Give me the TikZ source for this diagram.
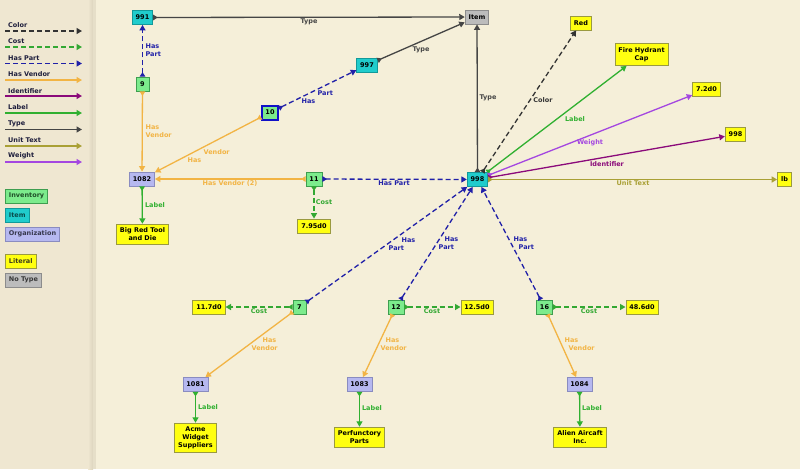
\documentclass[tikz,border=0pt]{standalone}
\usepackage{fontspec}
\setmainfont{DejaVu Sans}
\usetikzlibrary{arrows.meta}

\definecolor{bgmain}{HTML}{F5EFD9}
\definecolor{bgleft}{HTML}{EFE7D1}
\definecolor{bgdiv}{HTML}{DCD4BE}
\definecolor{typec}{HTML}{454545}
\definecolor{colorc}{HTML}{333333}
\definecolor{costc}{HTML}{33A833}
\definecolor{partc}{HTML}{2020A8}
\definecolor{vendorc}{HTML}{F2B444}
\definecolor{identc}{HTML}{8B0A7A}
\definecolor{labelc}{HTML}{30B030}
\definecolor{unitc}{HTML}{A9A035}
\definecolor{weightc}{HTML}{A447E0}
\definecolor{invfill}{HTML}{7CEB8C}
\definecolor{invline}{HTML}{3E9E50}
\definecolor{itemfill}{HTML}{20CCCC}
\definecolor{itemline}{HTML}{129A9A}
\definecolor{orgfill}{HTML}{B6B8F0}
\definecolor{orgline}{HTML}{8A8CC0}
\definecolor{litfill}{HTML}{FFFF10}
\definecolor{litline}{HTML}{9A9A40}
\definecolor{ntfill}{HTML}{BCBCBC}
\definecolor{ntline}{HTML}{8C8C8C}
\definecolor{selc}{HTML}{1010C8}
\definecolor{legendc}{HTML}{1E1E3C}

\begin{document}
\begin{tikzpicture}[
    x=1pt, y=-1pt,
    every node/.style={font=\fontsize{6.5}{8}\selectfont\bfseries},
    box/.style={draw, line width=0.8pt, inner xsep=3.5pt, inner ysep=3.8pt, minimum height=14pt, minimum width=13pt, align=center, text=black},
    inventory/.style={box, fill=invfill, draw=invline},
    item/.style={box, fill=itemfill, draw=itemline},
    organization/.style={box, fill=orgfill, draw=orgline},
    literal/.style={box, fill=litfill, draw=litline},
    notype/.style={box, fill=ntfill, draw=ntline},
    selected/.style={draw=selc, line width=2pt},
    edge/.style={line width=1.3pt, {Triangle[reversed,length=4.5pt,width=5.5pt]}-{Triangle[length=5.5pt,width=6pt]}},
    dashedge/.style={edge, dash pattern=on 5pt off 3pt},
    typeline/.style={edge, typec},
    colorline/.style={dashedge, colorc},
    costline/.style={dashedge, costc},
    partline/.style={dashedge, partc},
    vendorline/.style={edge, vendorc},
    idline/.style={edge, identc},
    labelline/.style={edge, labelc},
    unitline/.style={edge, unitc},
    weightline/.style={edge, weightc},
    legendline/.style={-{Triangle[length=5.5pt,width=6pt]}},
    legendtext/.style={anchor=west, inner sep=0pt, text=legendc},
    lbl/.style={inner sep=0pt, align=left},
]

% Background
\useasboundingbox (0,0) rectangle (800,469);
\fill[bgleft] (0,0) rectangle (89,469);
\shade[left color=bgleft, right color=bgdiv] (88,0) rectangle (93,469);
\fill[bgdiv!60!bgmain] (93,0) rectangle (96,469);
\fill[bgmain] (96,0) rectangle (800,469);

% Legend
\node[legendtext] (lgcolor) at (8,25) {Color};
\node[legendtext] (lgcost) at (8,41) {Cost};
\node[legendtext] (lgpart) at (8,58) {Has Part};
\node[legendtext] (lgvendor) at (8,74) {Has Vendor};
\node[legendtext] (lgident) at (8,91) {Identifier};
\node[legendtext] (lglabel) at (8,107) {Label};
\node[legendtext] (lgtype) at (8,124) {Type};
\node[legendtext] (lgunit) at (8,140) {Unit Text};
\node[legendtext] (lgweight) at (8,156) {Weight};

\coordinate (lgcolor-s) at (5,31);     \coordinate (lgcolor-e) at (82,31);
\coordinate (lgcost-s) at (5,47);      \coordinate (lgcost-e) at (82,47);
\coordinate (lgpart-s) at (5,63.5);    \coordinate (lgpart-e) at (82,63.5);
\coordinate (lgvendor-s) at (5,80);    \coordinate (lgvendor-e) at (82,80);
\coordinate (lgident-s) at (5,96);     \coordinate (lgident-e) at (82,96);
\coordinate (lglabel-s) at (5,113);    \coordinate (lglabel-e) at (82,113);
\coordinate (lgtype-s) at (5,129.5);   \coordinate (lgtype-e) at (82,129.5);
\coordinate (lgunit-s) at (5,146);     \coordinate (lgunit-e) at (82,146);
\coordinate (lgweight-s) at (5,162);   \coordinate (lgweight-e) at (82,162);

\draw[colorline, legendline] (lgcolor-s) -- (lgcolor-e);
\draw[costline, legendline] (lgcost-s) -- (lgcost-e);
\draw[partline, legendline] (lgpart-s) -- (lgpart-e);
\draw[vendorline, legendline] (lgvendor-s) -- (lgvendor-e);
\draw[idline, legendline] (lgident-s) -- (lgident-e);
\draw[labelline, legendline] (lglabel-s) -- (lglabel-e);
\draw[typeline, legendline] (lgtype-s) -- (lgtype-e);
\draw[unitline, legendline] (lgunit-s) -- (lgunit-e);
\draw[weightline, legendline] (lgweight-s) -- (lgweight-e);

\node[inventory, anchor=west, text=invline!50!black] (lginventory) at (5,196) {Inventory};
\node[item, anchor=west, text=itemline!50!black] (lgitem) at (5,215) {Item};
\node[organization, anchor=west, text=orgline!40!black] (lgorg) at (5,234) {Organization};
\node[literal, anchor=west, text=litline!40!black] (lgliteral) at (5,261.5) {Literal};
\node[notype, anchor=west, text=ntline!40!black] (lgnotype) at (5,280) {No Type};

% Nodes
\node[item] (n991) at (142.5,17.5) {991};
\node[inventory] (n9) at (142.5,84) {9};
\node[inventory, selected] (n10) at (270,112.5) {10};
\node[organization] (n1082) at (142,179) {1082};
\node[inventory] (n11) at (314,179) {11};
\node[literal] (l795) at (314,226) {7.95d0};
\node[literal] (lbigred) at (142.5,234.5) {Big Red Tool\\and Die};
\node[notype] (item) at (477,17) {Item};
\node[item] (n997) at (367,65) {997};
\node[item] (n998) at (477.5,179.5) {998};
\node[literal] (lred) at (581,23) {Red};
\node[literal] (lfire) at (641.5,54.5) {Fire Hydrant\\Cap};
\node[literal] (l72) at (706.5,89.5) {7.2d0};
\node[literal] (l998) at (735.5,134.5) {998};
\node[literal] (llb) at (784.5,179.5) {lb};
\node[inventory] (n7) at (299.5,307) {7};
\node[literal] (l117) at (209,307) {11.7d0};
\node[inventory] (n12) at (396,307) {12};
\node[literal] (l125) at (477,307) {12.5d0};
\node[inventory] (n16) at (544.5,307) {16};
\node[literal] (l486) at (642,307) {48.6d0};
\node[organization] (n1081) at (195.5,384.5) {1081};
\node[literal] (lacme) at (195.5,438) {Acme\\Widget\\Suppliers};
\node[organization] (n1083) at (359.5,384.5) {1083};
\node[literal] (lperf) at (359.5,437.5) {Perfunctory\\Parts};
\node[organization] (n1084) at (579.5,384.5) {1084};
\node[literal] (lalien) at (580,437.5) {Alien Aircaft\\Inc.};

% Edges
\draw[typeline] (n991) -- (item) node[lbl] at (309,22) {Type};
\draw[typeline] (n997) -- (item) node[lbl] at (421,50) {Type};
\draw[typeline] (n998) -- (item) node[lbl] at (488,98) {Type};
\draw[partline] (n9) -- (n991) node[lbl, anchor=west] at (145,50) {Has\\Part};
\draw[partline] (n10) -- (n997) node[lbl, anchor=west] at (301,97) {\hspace*{16pt}Part\\Has};
\draw[vendorline] (n9) -- (n1082) node[lbl, anchor=west] at (145,131) {Has\\Vendor};
\draw[vendorline] (n10) -- (n1082) node[lbl, anchor=west] at (187,156) {\hspace*{16pt}Vendor\\Has};
\draw[vendorline] (n11) -- (n1082) node[lbl] at (230,183) {Has Vendor (2)};
\draw[partline] (n11) -- (n998) node[lbl] at (394,183) {Has Part};
\draw[costline] (n11) -- (l795) node[lbl] at (324,202) {Cost};
\draw[labelline] (n1082) -- (lbigred) node[lbl] at (155,205) {Label};

\draw[colorline] (n998) -- (lred) node[lbl] at (543,100) {Color};
\draw[labelline] (n998) -- (lfire) node[lbl] at (575,119) {Label};
\draw[weightline] (n998) -- (l72) node[lbl] at (590,143) {Weight};
\draw[idline] (n998) -- (l998) node[lbl] at (607,164) {Identifier};
\draw[unitline] (n998) -- (llb) node[lbl] at (633,183) {Unit Text};

\draw[partline] (n7) -- (n998) node[lbl, anchor=west] at (388,244) {\hspace*{13pt}Has\\Part};
\draw[partline] (n12) -- (n998) node[lbl, anchor=west] at (438,243) {\hspace*{6pt}Has\\Part};
\draw[partline] (n16) -- (n998) node[lbl, anchor=west] at (513,243) {Has\\\hspace*{5pt}Part};

\draw[costline] (n7) -- (l117) node[lbl] at (259,311) {Cost};
\draw[costline] (n12) -- (l125) node[lbl] at (432,311) {Cost};
\draw[costline] (n16) -- (l486) node[lbl] at (589,311) {Cost};

\draw[vendorline] (n7) -- (n1081) node[lbl, anchor=west] at (251,344) {\hspace*{11pt}Has\\Vendor};
\draw[vendorline] (n12) -- (n1083) node[lbl, anchor=west] at (380,344) {\hspace*{5pt}Has\\Vendor};
\draw[vendorline] (n16) -- (n1084) node[lbl, anchor=west] at (564,344) {Has\\\hspace*{4pt}Vendor};

\draw[labelline] (n1081) -- (lacme) node[lbl] at (208,407) {Label};
\draw[labelline] (n1083) -- (lperf) node[lbl] at (372,408) {Label};
\draw[labelline] (n1084) -- (lalien) node[lbl] at (592,408) {Label};

\end{tikzpicture}
\end{document}
